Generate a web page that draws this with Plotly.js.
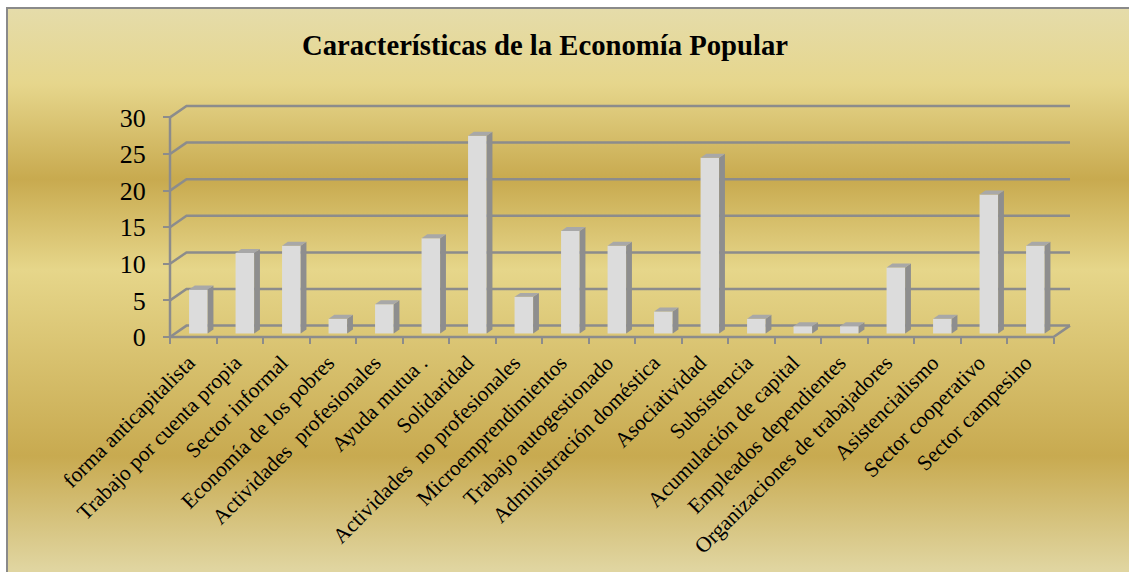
<!DOCTYPE html>
<html><head><meta charset="utf-8">
<script src="https://cdn.plot.ly/plotly-3.0.1.min.js"></script>
<style>
html,body{margin:0;padding:0;background:#fff;overflow:hidden;}
#bg{position:absolute;left:6px;top:7px;width:1200px;height:700px;border-top:2px solid #8a8a8a;border-left:2px solid #8a8a8a;
background:linear-gradient(to bottom,#e5dcaa 0px,#e6d68c 75px,#c8aa4f 170px,#e6d68a 261px,#c8aa50 447px,#e0d5a0 560px,#e0d5a0 700px);}
#chart{position:absolute;left:0;top:0;width:1129px;height:572px;}
</style></head><body><div id="bg"></div><div id="chart"></div>
<script>
const categories = [
  "forma anticapitalista",
  "Trabajo por cuenta propia",
  "Sector informal",
  "Economía de los pobres",
  "Actividades\u00a0 profesionales",
  "Ayuda mutua .",
  "Solidaridad",
  "Actividades\u00a0 no profesionales",
  "Microemprendimientos",
  "Trabajo autogestionado",
  "Administración doméstica",
  "Asociatividad",
  "Subsistencia",
  "Acumulación de capital",
  "Empleados dependientes",
  "Organizaciones de trabajadores",
  "Asistencialismo",
  "Sector cooperativo",
  "Sector campesino"
];
const values = [6, 11, 12, 2, 4, 13, 27, 5, 14, 12, 3, 24, 2, 1, 1, 9, 2, 19, 12];
const yTicks = [0, 5, 10, 15, 20, 25, 30];
const chartTitle = "Características de la Economía Popular";

// geometry (pixels per unit, oblique depth)
const W = 1129, H = 572;
const PXX = 46.5, PXY = 7.322;
const DX = 16.5 / PXX, DY = 11.4 / PXY;
const PAD = 5, padX = PAD / PXX, padY = PAD / PXY;
const F0 = 0.31, FD = 0.35, BW = 0.40;
const n = categories.length;
const yMax = yTicks[yTicks.length - 1];
const xr = [-0.5 - padX, n - 0.5 + DX + padX];
const yr = [-padY, yMax + DY + padY];
const plotW = (xr[1] - xr[0]) * PXX, plotH = (yr[1] - yr[0]) * PXY;
const mL = 170 - PAD, mB = H - 337 - PAD;
const mT = H - mB - plotH, mR = W - mL - plotW;

const idx = categories.map((_, i) => i);
const base = F0 * DY;
const GRID = '#8c8c8c';

// gridlines on back wall + side wall diagonals
const shapes = [];
yTicks.forEach(v => {
  shapes.push({type: 'path', layer: 'below', xref: 'x', yref: 'y',
    path: `M ${-0.5},${v} L ${-0.5 + DX},${v + DY} L ${n - 0.5 + DX},${v + DY}`,
    line: {color: GRID, width: 2.5}});
});
shapes.push({type: 'path', layer: 'below', xref: 'x', yref: 'y',
  path: `M ${-0.5},${yTicks[0]} L ${n - 0.5},${yTicks[0]} L ${n - 0.5 + DX},${yTicks[0] + DY}`,
  line: {color: GRID, width: 2.5}});
shapes.push({type: 'line', layer: 'below', xref: 'x', yref: 'y',
  x0: -0.5, x1: -0.5, y0: yTicks[0], y1: yMax, line: {color: GRID, width: 2.5}});

// side and top faces
const sx = [], sy = [], tx = [], ty = [];
values.forEach((v, i) => {
  const x0 = i + F0 * DX - BW / 2, x1 = i + F0 * DX + BW / 2;
  const ddx = FD * DX, ddy = FD * DY;
  sx.push(x1, x1 + ddx, x1 + ddx, x1, x1, null);
  sy.push(base, base + ddy, base + ddy + v, base + v, base, null);
  tx.push(x0, x1, x1 + ddx, x0 + ddx, x0, null);
  ty.push(base + v, base + v, base + v + ddy, base + v + ddy, base + v, null);
});

const traces = [
  {type: 'bar', x: idx.map(i => i + F0 * DX), y: values, base: base, width: BW,
   marker: {color: '#dcdcdc', line: {width: 0}}, hoverinfo: 'skip', showlegend: false},
  {type: 'scatter', x: sx, y: sy, mode: 'lines', fill: 'toself', fillcolor: '#8e8e8e',
   line: {width: 0, color: '#8e8e8e'}, hoverinfo: 'skip', showlegend: false},
  {type: 'scatter', x: tx, y: ty, mode: 'lines', fill: 'toself', fillcolor: '#a8a8a8',
   line: {width: 0, color: '#a8a8a8'}, hoverinfo: 'skip', showlegend: false},
  {type: 'scatter', x: [null], y: [null], xaxis: 'x2', yaxis: 'y', mode: 'none',
   hoverinfo: 'skip', showlegend: false}
];

const serif = 'Liberation Serif, Times New Roman, serif';
const layout = {
  width: W, height: H,
  paper_bgcolor: 'rgba(0,0,0,0)', plot_bgcolor: 'rgba(0,0,0,0)',
  margin: {l: mL, r: mR, t: mT, b: mB, pad: 0},
  showlegend: false,
  title: {text: '<b>' + chartTitle + '</b>', font: {family: serif, size: 28.7, color: '#000'},
    x: 545 / W, xanchor: 'center', xref: 'container', y: 1 - 45 / H, yanchor: 'middle', yref: 'container'},
  xaxis: {range: xr, tickvals: idx.map(i => i - 0.1), ticktext: categories, tickangle: -45, ticks: '',
    showgrid: false, zeroline: false, showline: false, anchor: 'free', position: PAD / plotH,
    tickfont: {family: serif, size: 21.5, color: '#000'}, ticklabelstandoff: 8, fixedrange: true},
  xaxis2: {range: xr, overlaying: 'x', tickvals: idx.map(i => i - 0.5).concat([n - 0.5]),
    ticks: 'outside', ticklen: 6, tickwidth: 2, tickcolor: GRID, showticklabels: false,
    showgrid: false, zeroline: false, showline: false, anchor: 'free', position: PAD / plotH, side: 'bottom'},
  yaxis: {range: yr, tickvals: yTicks, ticks: 'outside', ticklen: 7, tickwidth: 2, tickcolor: GRID,
    showgrid: false, zeroline: false, showline: false, anchor: 'free', position: PAD / plotW,
    tickfont: {family: serif, size: 26, color: '#000'}, ticklabelstandoff: 12, fixedrange: true},
  shapes: shapes
};
Plotly.newPlot('chart', traces, layout, {staticPlot: true, displayModeBar: false});
</script></body></html>
